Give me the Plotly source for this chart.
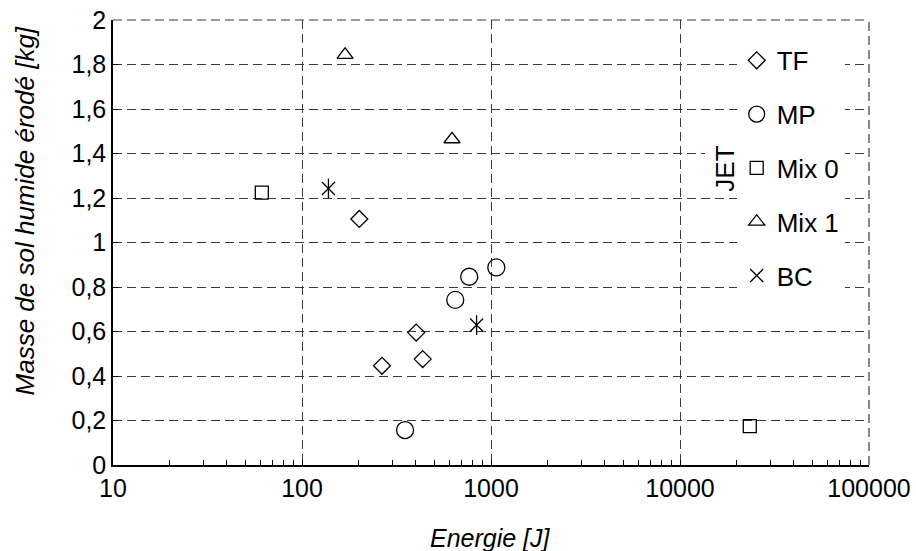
import plotly.graph_objects as go

# JET erosion test results
tf_energy = [201, 402, 435, 265]
tf_mass = [1.106, 0.595, 0.476, 0.446]

mp_energy = [1067, 767, 647, 351]
mp_mass = [0.888, 0.846, 0.742, 0.157]

mix0_energy = [61.3, 23400]
mix0_mass = [1.224, 0.175]

mix1_energy = [169, 622]
mix1_mass = [1.843, 1.464]

bc_energy = [138, 839]
bc_mass = [1.243, 0.629]

x_ticks = [10, 100, 1000, 10000, 100000]
x_labels = ["10", "100", "1000", "10000", "100000"]

FONT = "Liberation Sans, Arial, sans-serif"
FS = 25
GRID = "#3a3a3a"

fig = go.Figure()

series = [
    ("TF", tf_energy, tf_mass, "diamond-open", 13),
    ("MP", mp_energy, mp_mass, "circle-open", 17),
    ("Mix 0", mix0_energy, mix0_mass, "square-open", 13),
    ("Mix 1", mix1_energy, mix1_mass, "triangle-up-open", 14),
    ("BC", bc_energy, bc_mass, "x-thin-open", 13),
]

for name, xs, ys, sym, size in series:
    fig.add_trace(go.Scatter(
        x=xs, y=ys, mode="markers", name=name, legendgroup=name,
        marker=dict(symbol=sym, size=size, color="black",
                    line=dict(color="black", width=1.3)),
    ))

# vertical stroke of the BC asterisk
fig.add_trace(go.Scatter(
    x=bc_energy, y=bc_mass, mode="markers", showlegend=False,
    marker=dict(symbol="line-ns-open", size=14, color="black",
                line=dict(color="black", width=1.3)),
))

fig.update_xaxes(
    type="log", range=[1, 5], automargin=False, ticklabeloverflow="allow",
    tickvals=x_ticks, ticktext=x_labels,
    ticks="inside", ticklen=5, tickcolor="black",
    showline=True, linecolor="black", linewidth=1.5,
    showgrid=True, gridcolor=GRID, gridwidth=1, griddash="9px,5px",
    minor=dict(dtick="D1", ticks="inside", ticklen=5, tickcolor="black",
               showgrid=False),
    tickfont=dict(family=FONT, size=FS, color="black"),
    zeroline=False,
)
fig.update_yaxes(
    range=[0, 2], dtick=0.2, tickformat=".1~f", automargin=False,
    ticklabeloverflow="allow",
    ticks="inside", ticklen=5, tickcolor="black",
    showline=True, linecolor="black", linewidth=1.5,
    showgrid=True, gridcolor=GRID, gridwidth=1, griddash="9px,5px",
    tickfont=dict(family=FONT, size=FS, color="black"),
    zeroline=False,
)

# dashed frame on the top and right edges
fig.add_shape(type="line", xref="paper", yref="paper", x0=0, x1=1, y0=1, y1=1,
              line=dict(color=GRID, width=1.2, dash="9px,5px"))
fig.add_shape(type="line", xref="paper", yref="paper", x0=1, x1=1, y0=0, y1=1,
              line=dict(color=GRID, width=1.2, dash="9px,5px"))

fig.add_annotation(
    text="<i>Energie [J]</i>", xref="paper", yref="paper",
    x=0.499, y=-0.164, xanchor="center", yanchor="middle", showarrow=False,
    font=dict(family=FONT, size=FS, color="black"),
)
fig.add_annotation(
    text="<i>Masse de sol humide érodé [kg]</i>", xref="paper", yref="paper",
    x=-0.117, y=0.571, xanchor="center", yanchor="middle", showarrow=False,
    textangle=-90, font=dict(family=FONT, size=26, color="black"),
)
fig.add_annotation(
    text="JET", xref="paper", yref="paper",
    x=0.809, y=0.665, xanchor="center", yanchor="middle", showarrow=False,
    textangle=-90, bgcolor="white", borderpad=4,
    font=dict(family=FONT, size=26, color="black"),
)

fig.update_layout(
    width=916, height=551,
    margin=dict(l=113, r=47, t=20, b=86),
    paper_bgcolor="white", plot_bgcolor="white",
    separators=", ",
    showlegend=True,
    legend=dict(
        x=0.825, y=0.962, xanchor="left", yanchor="top",
        bgcolor="white", borderwidth=0, tracegroupgap=17,
        font=dict(family=FONT, size=26, color="black"),
    ),
)

# drop the default 8px body margin so the figure fills the window exactly
fig.write_html("out.html", config={"displayModeBar": False},
               post_script="document.body.style.margin='0';")
